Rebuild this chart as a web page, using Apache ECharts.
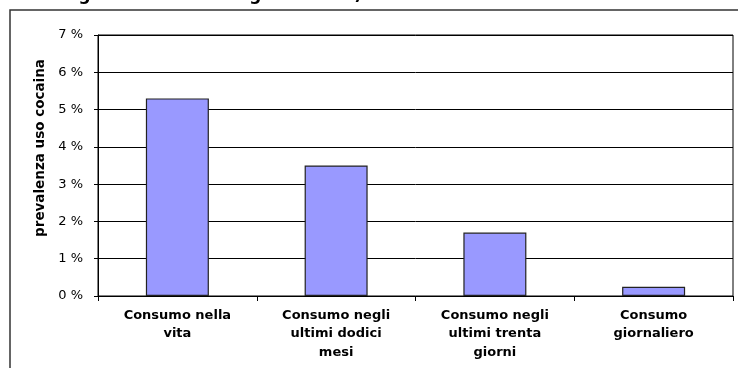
<!DOCTYPE html>
<html>
<head>
<meta charset="utf-8">
<script src="https://cdn.jsdelivr.net/npm/echarts@6/dist/echarts.min.js"></script>
<style>
  html, body { margin: 0; padding: 0; background: #ffffff; }
  #chart { width: 738px; height: 368px; }
</style>
</head>
<body>
<div id="chart"></div>
<script>
// Cocaine use prevalence by time frame
const categories = [
  'Consumo nella\nvita',
  'Consumo negli\nultimi dodici\nmesi',
  'Consumo negli\nultimi trenta\ngiorni',
  'Consumo\ngiornaliero'
];
const prevalence = [5.3, 3.5, 1.7, 0.25];
const yTicks = { min: 0, max: 7, interval: 1 };
const yTitle = 'prevalenza uso cocaina';
const headline = '(prevalenza nella vita, negli ultimi 12 mesi, negli ultimi 30 giorni e consumo giornaliero)';

const FONT = '"DejaVu Sans", Verdana, sans-serif';
const chart = echarts.init(document.getElementById('chart'), null, { renderer: 'canvas' });

chart.setOption({
  backgroundColor: '#ffffff',
  animation: false,
  grid: {
    left: 98, top: 35, right: 5, bottom: 72,
    show: true, borderColor: '#000000', borderWidth: 1, backgroundColor: 'transparent'
  },
  graphic: [
    {
      type: 'text', right: 376, top: -13,
      style: { text: headline, font: 'bold 17px ' + FONT, fill: '#000000', textAlign: 'right' }
    },
    {
      type: 'rect', shape: { x: 10, y: 10, width: 740, height: 380 },
      style: { fill: 'none', stroke: '#333333', lineWidth: 1.5 }
    },
    {
      type: 'text', x: 40, y: 148, rotation: Math.PI / 2,
      style: { text: yTitle, font: 'bold 13.5px ' + FONT, fill: '#000000', textAlign: 'center', textVerticalAlign: 'middle' }
    }
  ],
  xAxis: {
    type: 'category',
    data: categories,
    axisLine: { lineStyle: { color: '#000000', width: 1 } },
    axisTick: { show: true, length: 5, lineStyle: { color: '#000000' } },
    axisLabel: {
      margin: 10, color: '#000000', fontFamily: FONT, fontWeight: 'bold', fontSize: 13,
      lineHeight: 18.5, interval: 0
    }
  },
  yAxis: {
    type: 'value',
    min: yTicks.min, max: yTicks.max, interval: yTicks.interval,
    axisLine: { show: true, lineStyle: { color: '#000000', width: 1 } },
    axisTick: { show: true, length: 4, lineStyle: { color: '#000000' } },
    splitLine: { show: true, lineStyle: { color: '#000000', width: 1 } },
    axisLabel: {
      margin: 15, color: '#000000', fontFamily: FONT, fontSize: 13,
      formatter: v => v + ' %'
    }
  },
  series: [{
    type: 'bar',
    data: prevalence,
    barWidth: 63,
    itemStyle: { color: '#9999FF', borderColor: '#222222', borderWidth: 1.2 }
  }]
});
</script>
</body>
</html>
